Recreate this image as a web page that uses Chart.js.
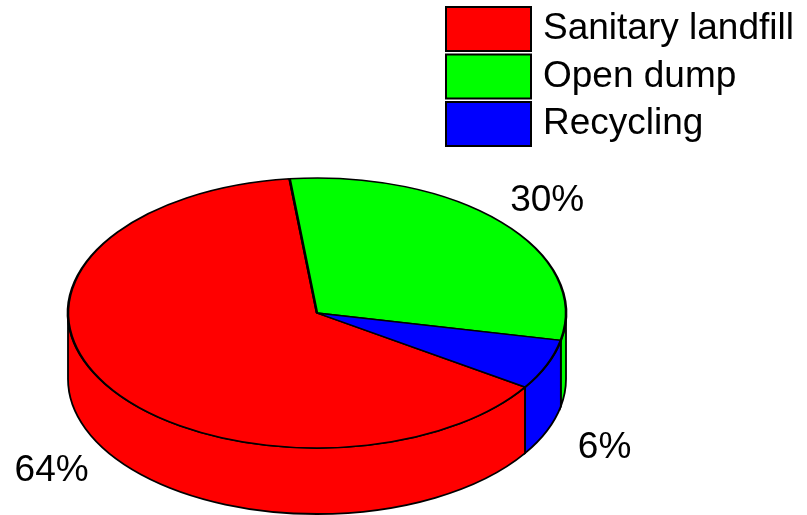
<!DOCTYPE html>
<html>
<head>
<meta charset="utf-8">
<script src="https://cdn.jsdelivr.net/npm/chart.js@4.4.0/dist/chart.umd.min.js"></script>
<style>
  html, body { margin: 0; padding: 0; background: #fff; }
  #wrap { width: 807px; height: 515px; }
</style>
</head>
<body>
<div id="wrap"><canvas id="wastePie" width="807" height="515"></canvas></div>
<script>
// waste disposal shares (%)
const categories = ['Sanitary landfill', 'Open dump', 'Recycling'];
const shares = [64, 30, 6];
const sliceColors = ['#ff0000', '#00ff00', '#0000ff'];

const TILT = 135 / 249;   // ellipse height / width of the top face
const DEPTH = 66;         // thickness of the disc
const FONT = '37px "Liberation Sans", Arial, sans-serif';

function arcsOf(chart) {
  return chart.getDatasetMeta(0).data.map(a =>
    a.getProps(['x', 'y', 'startAngle', 'endAngle', 'outerRadius'], true));
}

const pie3d = {
  id: 'pie3d',
  beforeDatasetsDraw(chart) {
    const ctx = chart.ctx;
    const arcs = arcsOf(chart);
    // side walls - only the front half (0..PI) shows
    arcs.forEach((a, i) => {
      const rx = a.outerRadius, ry = a.outerRadius * TILT;
      [-2 * Math.PI, 0, 2 * Math.PI].forEach(shift => {
        const s = Math.max(a.startAngle + shift, 0);
        const e = Math.min(a.endAngle + shift, Math.PI);
        if (e <= s) return;
        ctx.save();
        ctx.beginPath();
        ctx.ellipse(a.x, a.y, rx, ry, 0, s, e);
        ctx.ellipse(a.x, a.y + DEPTH, rx, ry, 0, e, s, true);
        ctx.closePath();
        ctx.fillStyle = sliceColors[i];
        ctx.fill();
        ctx.lineWidth = 1.8;
        ctx.strokeStyle = '#000';
        ctx.stroke();
        ctx.restore();
      });
    });
    // squash the pie itself into the top ellipse
    const cy = arcs[0].y;
    ctx.save();
    ctx.translate(0, cy * (1 - TILT));
    ctx.scale(1, TILT);
  },
  afterDatasetsDraw(chart) {
    const ctx = chart.ctx;
    ctx.restore();
    // percentage labels just outside each slice
    const arcs = arcsOf(chart);
    ctx.save();
    ctx.font = FONT;
    ctx.fillStyle = '#000';
    ctx.textAlign = 'center';
    ctx.textBaseline = 'alphabetic';
    arcs.forEach((a, i) => {
      const mid = (a.startAngle + a.endAngle) / 2;
      const rx = a.outerRadius * 1.25, ry = a.outerRadius * TILT * 1.25;
      const x = a.x + rx * Math.cos(mid);
      let y = a.y + ry * Math.sin(mid);
      if (Math.sin(mid) > 0) y += DEPTH + 2;
      ctx.fillText(shares[i] + '%', x, y + 12);
    });
    ctx.restore();
  },
  afterDraw(chart) {
    // legend box, top right
    const ctx = chart.ctx;
    ctx.save();
    ctx.font = FONT;
    ctx.textAlign = 'left';
    ctx.textBaseline = 'alphabetic';
    categories.forEach((name, i) => {
      const top = 7 + i * 47.5;
      ctx.fillStyle = sliceColors[i];
      ctx.fillRect(446, top, 85, 44);
      ctx.lineWidth = 2;
      ctx.strokeStyle = '#000';
      ctx.strokeRect(446, top, 85, 44);
      ctx.fillStyle = '#000';
      ctx.fillText(name, 543, top + 32);
    });
    ctx.restore();
  }
};

new Chart(document.getElementById('wastePie'), {
  type: 'pie',
  data: {
    labels: categories,
    datasets: [{
      data: shares,
      backgroundColor: sliceColors,
      borderColor: '#000',
      borderWidth: 2.6
    }]
  },
  options: {
    responsive: false,
    animation: false,
    events: [],
    rotation: 123.3,
    radius: 249,
    layout: { padding: { left: 68, right: 241, top: 111, bottom: 0 } },
    plugins: {
      legend: { display: false },
      tooltip: { enabled: false }
    }
  },
  plugins: [pie3d]
});
</script>
</body>
</html>
